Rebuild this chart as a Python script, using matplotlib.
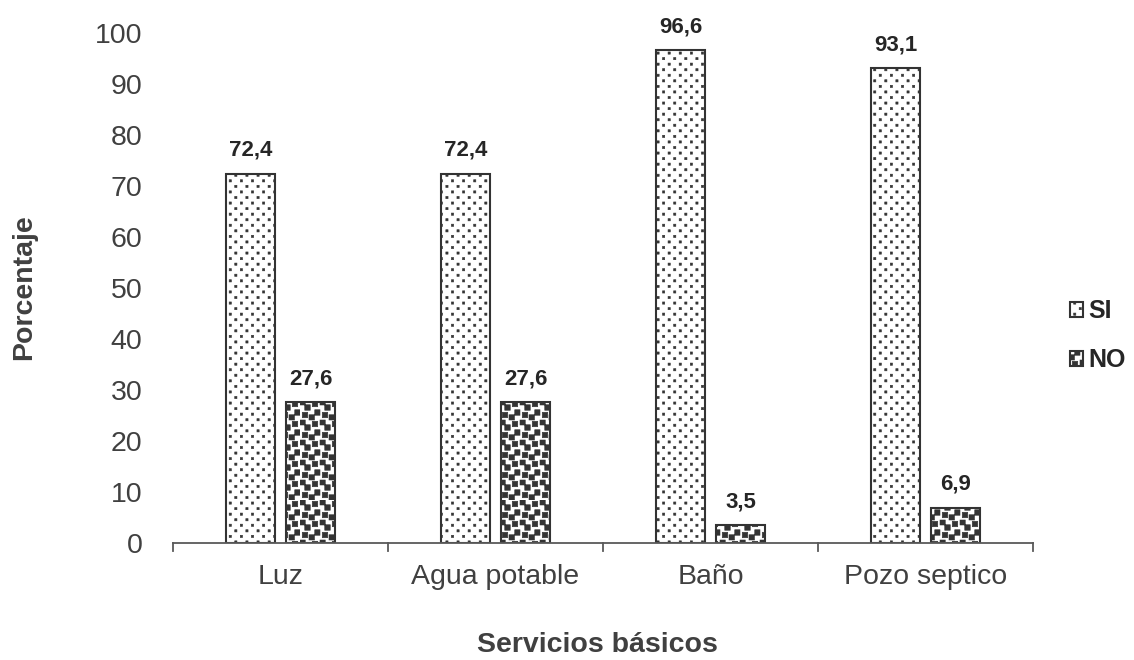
import warnings
import matplotlib
matplotlib.use("Agg")
import matplotlib.pyplot as plt
from matplotlib import hatch as mhatch
from matplotlib.path import Path
import numpy as np

warnings.filterwarnings("ignore")

categories = ["Luz", "Agua potable", "Baño", "Pozo septico"]
si_values = [72.4, 72.4, 96.6, 93.1]
no_values = [27.6, 27.6, 3.5, 6.9]
series_names = ["SI", "NO"]
yticks = [0, 10, 20, 30, 40, 50, 60, 70, 80, 90, 100]


class TileHatch(mhatch.HatchPatternBase):
    """Bitmap-style fill: an 8x8 cell of filled rectangles, repeated."""
    char = ""
    tiles = 9
    rects = []   # (col, row, width, height) in 8x8 cell units

    def __init__(self, hatch, density):
        self.on = self.char in hatch
        self.num_vertices = (len(self.rects) * self.tiles ** 2 * 5) if self.on else 0

    def set_vertices_and_codes(self, vertices, codes):
        t = 1.0 / self.tiles
        u = t / 8.0
        k = 0
        for i in range(self.tiles):
            for j in range(self.tiles):
                for c, r, w, h in self.rects:
                    x0 = i * t + c * u
                    y0 = j * t + r * u
                    x1, y1 = x0 + w * u, y0 + h * u
                    vertices[k:k + 5] = [(x0, y0), (x1, y0), (x1, y1), (x0, y1), (x0, y0)]
                    codes[k:k + 5] = [Path.MOVETO, Path.LINETO, Path.LINETO,
                                      Path.LINETO, Path.CLOSEPOLY]
                    k += 5


class SparseDots(TileHatch):
    char = "d"
    tiles = 9
    rects = [(1.0, 1.0, 1.6, 1.6), (5.0, 5.0, 1.6, 1.6)]


class Confetti(TileHatch):
    char = "q"
    tiles = 5
    rects = [(0.9, 0.9, 2.2, 2.2), (5.9, 1.9, 2.1, 2.2), (3.6, 0.0, 2.2, 2.1),
             (1.9, 3.9, 2.2, 2.2), (4.9, 5.3, 2.2, 2.2), (0.0, 6.0, 2.1, 2.0)]


mhatch._hatch_types.extend([SparseDots, Confetti])

plt.rcParams["font.family"] = ["Liberation Sans", "DejaVu Sans"]
plt.rcParams["hatch.linewidth"] = 0.4
plt.rcParams["hatch.color"] = "#151515"

text_color = "#404040"
axis_color = "#595959"

fig = plt.figure(figsize=(11.34, 6.6), dpi=100)
ax = fig.add_axes([0.1526, 0.1773, 0.7584, 0.7727])

x = np.arange(len(categories))
width = 0.225
offset = 0.14

b_si = ax.bar(x - offset, si_values, width, color="white", edgecolor="#333333",
              linewidth=1.5, hatch="d", label=series_names[0])
b_no = ax.bar(x + offset, no_values, width, color="white", edgecolor="#333333",
              linewidth=1.5, hatch="q", label=series_names[1])

for bars, vals in ((b_si, si_values), (b_no, no_values)):
    for rect, v in zip(bars, vals):
        ax.text(rect.get_x() + rect.get_width() / 2, v + 4.6,
                f"{v:.1f}".replace(".", ","), ha="center", va="center",
                fontsize=16, fontweight="bold", color="#262626")

ax.set_xlim(-0.5, len(categories) - 0.5)
ax.set_ylim(0, 100)
ax.set_yticks(yticks)
ax.set_yticklabels([str(t) for t in yticks], fontsize=20.5, color=text_color)

ax.set_xticks(x)
ax.set_xticklabels(categories, fontsize=20.5, color=text_color)
ax.tick_params(axis="x", length=0, pad=15)
ax.tick_params(axis="y", length=0, pad=22)
for b in np.arange(-0.5, len(categories), 1.0):
    ax.plot([b, b], [0, -0.016], transform=ax.get_xaxis_transform(),
            color=axis_color, lw=1.3, clip_on=False)

for s in ("top", "right", "left"):
    ax.spines[s].set_visible(False)
ax.spines["bottom"].set_color(axis_color)
ax.spines["bottom"].set_linewidth(1.3)

fig.text(0.021, 0.565, "Porcentaje", rotation=90, ha="center", va="center",
         fontsize=20.5, fontweight="bold", color=text_color)
fig.text(0.527, 0.022, "Servicios básicos", ha="center", va="center",
         fontsize=20.5, fontweight="bold", color=text_color)

leg = fig.legend(handles=[b_si, b_no], labels=series_names, loc="center left",
                 bbox_to_anchor=(0.944, 0.491), frameon=False, fontsize=18,
                 handlelength=0.5, handleheight=0.5, handletextpad=0.2,
                 labelspacing=1.0, borderpad=0, borderaxespad=0)
for t in leg.get_texts():
    t.set_fontweight("bold")
    t.set_color("#262626")

fig.savefig("out.png", dpi=100)
